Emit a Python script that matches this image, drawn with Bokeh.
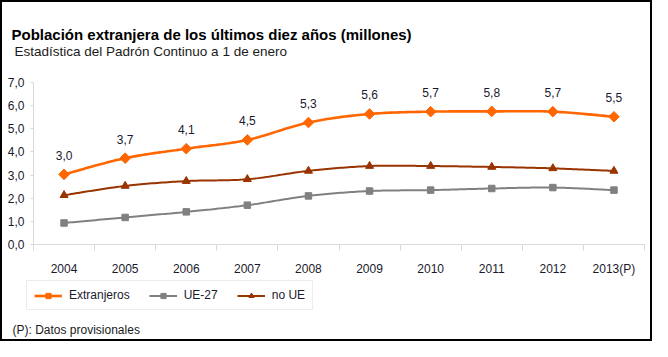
import numpy as np
from bokeh.plotting import figure
from bokeh.models import (Label, Legend, LegendItem, FixedTicker, ColumnDataSource,
                          LabelSet)
from bokeh.core.properties import value
from bokeh.embed import file_html
from bokeh.resources import INLINE

# ---- data ----
years = ["2004", "2005", "2006", "2007", "2008", "2009", "2010", "2011", "2012", "2013(P)"]
extranjeros = [3.03, 3.73, 4.14, 4.52, 5.27, 5.64, 5.74, 5.752, 5.74, 5.52]
ue27 = [0.93, 1.17, 1.41, 1.70, 2.10, 2.31, 2.35, 2.42, 2.46, 2.35]
no_ue = [2.13, 2.53, 2.74, 2.82, 3.18, 3.39, 3.39, 3.35, 3.29, 3.18]
y_ticks = [0, 1, 2, 3, 4, 5, 6, 7]

title_text = "Población extranjera de los últimos diez años (millones)"
subtitle_text = "Estadística del Padrón Continuo a 1 de enero"
note_text = "(P): Datos provisionales"

FONT = "Liberation Sans"
TXT = "#1a1a2e"

W, H = 652, 341
# pixel layout of the data area inside the canvas (from the left / from the top)
AX_LEFT, AX_RIGHT = 33, 644
AX_TOP, AX_BOTTOM = 82, 244
Y_MAX = 7

xs = list(range(len(years)))
n = len(years)
xpx = (AX_RIGHT - AX_LEFT) / n
ypx = (AX_BOTTOM - AX_TOP) / Y_MAX
x_start = -0.5 - AX_LEFT / xpx
x_end = n - 0.5 + (W - AX_RIGHT) / xpx
y_start = -(H - AX_BOTTOM) / ypx
y_end = Y_MAX + AX_TOP / ypx


def smooth(x, y, n=24):
    """Catmull-Rom (Excel-like) smoothing through the data points."""
    x = np.asarray(x, float)
    y = np.asarray(y, float)
    px = np.concatenate([[x[0]], x, [x[-1]]])
    py = np.concatenate([[y[0]], y, [y[-1]]])
    ox, oy = [], []
    t = np.linspace(0, 1, n)
    for i in range(1, len(px) - 2):
        p0x, p1x, p2x, p3x = px[i - 1], px[i], px[i + 1], px[i + 2]
        p0y, p1y, p2y, p3y = py[i - 1], py[i], py[i + 1], py[i + 2]
        c1x, c1y = p1x + (p2x - p0x) / 6, p1y + (p2y - p0y) / 6
        c2x, c2y = p2x - (p3x - p1x) / 6, p2y - (p3y - p1y) / 6
        bx = (1 - t) ** 3 * p1x + 3 * (1 - t) ** 2 * t * c1x + 3 * (1 - t) * t ** 2 * c2x + t ** 3 * p2x
        by = (1 - t) ** 3 * p1y + 3 * (1 - t) ** 2 * t * c1y + 3 * (1 - t) * t ** 2 * c2y + t ** 3 * p2y
        ox.extend(bx.tolist())
        oy.extend(by.tolist())
    return ox, oy


p = figure(width=W, height=H, x_range=(x_start, x_end), y_range=(y_start, y_end),
           output_backend="svg", toolbar_location=None, title=None,
           min_border=0, min_border_left=0, min_border_right=0,
           min_border_top=0, min_border_bottom=0)
p.outline_line_color = "black"
p.outline_line_width = 3
p.xgrid.visible = False
p.ygrid.visible = False
p.background_fill_color = "white"
p.border_fill_color = "white"

# x axis (fixed at y = 0)
p.xaxis.fixed_location = 0
p.xaxis.bounds = (-0.5, n - 0.5)
p.xaxis.ticker = FixedTicker(ticks=xs, minor_ticks=[i - 0.5 for i in range(n + 1)])
p.xaxis.major_label_overrides = {i: y for i, y in enumerate(years)}
p.xaxis.major_tick_line_color = None
p.xaxis.major_tick_out = 0
p.xaxis.major_tick_in = 0
p.xaxis.minor_tick_line_color = "#d9d9d9"
p.xaxis.minor_tick_out = 6
p.xaxis.minor_tick_in = 0
p.xaxis.axis_line_color = "#d9d9d9"
p.xaxis.major_label_standoff = 11
p.xaxis.major_label_text_font = FONT
p.xaxis.major_label_text_font_size = "12px"
p.xaxis.major_label_text_color = TXT

# y axis (fixed at the left edge of the category area)
p.yaxis.fixed_location = -0.5
p.yaxis.bounds = (0, Y_MAX)
p.yaxis.ticker = FixedTicker(ticks=y_ticks, minor_ticks=[])
p.yaxis.major_label_overrides = {t: f"{t},0" for t in y_ticks}
p.yaxis.axis_line_color = "#d9d9d9"
p.yaxis.major_tick_line_color = "#d9d9d9"
p.yaxis.major_tick_out = 3
p.yaxis.major_tick_in = 0
p.yaxis.minor_tick_line_color = None
p.yaxis.major_label_standoff = 6
p.yaxis.major_label_text_font = FONT
p.yaxis.major_label_text_font_size = "12px"
p.yaxis.major_label_text_color = TXT

series = [
    ("Extranjeros", extranjeros, "#FF6600", 2.6, dict(marker="square", size=7.5, angle=np.pi / 4)),
    ("UE-27", ue27, "#808080", 2.0, dict(marker="square", size=6.5)),
    ("no UE", no_ue, "#993300", 2.0, dict(marker="triangle", size=8)),
]

items = []
for name, vals, col, lw, mk in series:
    sx, sy = smooth(xs, vals)
    lr = p.line(sx, sy, line_color=col, line_width=lw)
    sr = p.scatter(xs, vals, fill_color=col, line_color=col, **mk)
    items.append(LegendItem(label=name, renderers=[lr, sr]))

# data labels
lab_src = ColumnDataSource(dict(x=xs, y=extranjeros,
                                t=[f"{v:.1f}".replace(".", ",") for v in extranjeros]))
p.add_layout(LabelSet(x="x", y="y", text="t", source=lab_src, y_offset=19,
                      text_align="center", text_baseline="middle",
                      text_font=value(FONT), text_font_size=value("12px"),
                      text_color=value(TXT)))

legend = Legend(items=items, orientation="horizontal", location=(26, H - 310),
                label_text_font=FONT, label_text_font_size="12px", label_text_color=TXT,
                glyph_width=28, glyph_height=13, label_height=13, label_standoff=7,
                spacing=19, padding=7, margin=0,
                border_line_color="#d9d9d9", border_line_width=1,
                background_fill_color="white", background_fill_alpha=1)
p.add_layout(legend)

p.add_layout(Label(x=11, y=H - 34, x_units="screen", y_units="screen", text=title_text,
                   text_font=FONT, text_font_size="15px", text_font_style="bold",
                   text_color="#000000", text_baseline="alphabetic"))
p.add_layout(Label(x=14, y=H - 51, x_units="screen", y_units="screen", text=subtitle_text,
                   text_font=FONT, text_font_size="13.5px", text_color="#1a1a1a",
                   text_baseline="alphabetic"))
p.add_layout(Label(x=12, y=H - 329, x_units="screen", y_units="screen", text=note_text,
                   text_font=FONT, text_font_size="12px", text_color="#1a1a1a",
                   text_baseline="alphabetic"))

open("out.html", "w").write(file_html(p, INLINE))
